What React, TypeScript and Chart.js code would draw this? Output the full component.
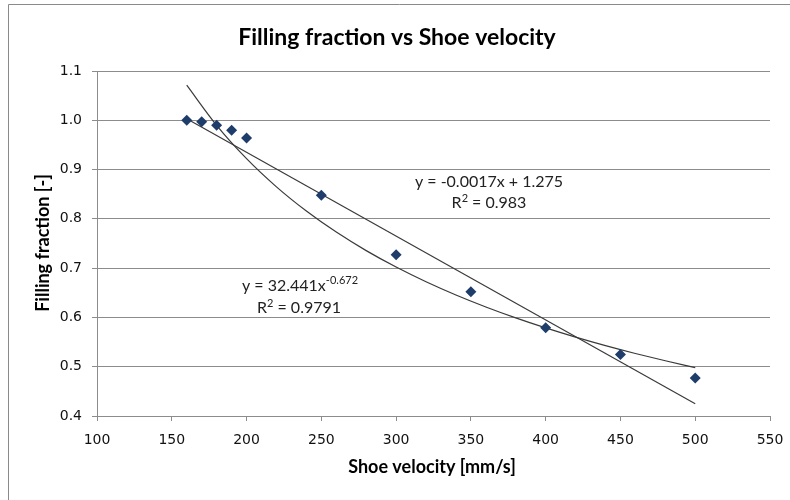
import React, { useEffect, useRef } from "react";
import { Chart, registerables } from "chart.js";

Chart.register(...registerables);

const velocities = [160, 170, 180, 190, 200, 250, 300, 350, 400, 450, 500];
const fillingFractions = [1.0, 0.997, 0.99, 0.98, 0.964, 0.848, 0.727, 0.652, 0.579, 0.525, 0.477];
const linearSlope = -0.0017;
const linearIntercept = 1.275;
const powerCoef = 32.441;
const powerExp = -0.672;
const trendX = [160, 180, 200, 220, 240, 260, 280, 300, 320, 340, 360, 380, 400, 420, 440, 460, 480, 500];

const linearTrend = [160, 500].map((x) => ({ x, y: linearSlope * x + linearIntercept }));
const powerTrend = trendX.map((x) => ({ x, y: powerCoef * Math.pow(x, powerExp) }));

const CAL = "Lato, 'Open Sans', sans-serif";

const decorPlugin = {
  id: "decor",
  beforeDraw(chart: any) {
    const ctx = chart.ctx;
    ctx.save();
    ctx.fillStyle = "#ffffff";
    ctx.fillRect(0, 0, chart.width, chart.height);
    ctx.strokeStyle = "#8a8a8a";
    ctx.lineWidth = 1;
    ctx.beginPath();
    ctx.moveTo(8.5, 500);
    ctx.lineTo(8.5, 4.5);
    ctx.lineTo(790, 4.5);
    ctx.stroke();
    ctx.restore();
  },
  afterDraw(chart: any) {
    const ctx = chart.ctx;
    ctx.save();
    ctx.fillStyle = "#000000";
    ctx.textBaseline = "middle";
    ctx.textAlign = "center";
    ctx.font = `bold 23px ${CAL}`;
    ctx.fillText("Filling fraction vs Shoe velocity", 397, 38);
    ctx.font = `bold 18px ${CAL}`;
    ctx.fillText("Shoe velocity [mm/s]", 432, 467);
    ctx.save();
    ctx.translate(43, 243);
    ctx.rotate(-Math.PI / 2);
    ctx.fillText("Filling fraction [-]", 0, 0);
    ctx.restore();

    ctx.fillStyle = "#222222";
    // linear equation
    ctx.font = `16px ${CAL}`;
    ctx.fillText("y = -0.0017x + 1.275", 489, 182);
    drawR2(ctx, "0.983", 489, 203);

    // power equation
    const base = "y = 32.441x";
    const sup = "-0.672";
    ctx.font = `16px ${CAL}`;
    const wb = ctx.measureText(base).width;
    ctx.font = `11px ${CAL}`;
    const ws = ctx.measureText(sup).width;
    const start = 300 - (wb + ws) / 2;
    ctx.textAlign = "left";
    ctx.font = `16px ${CAL}`;
    ctx.fillText(base, start, 286);
    ctx.font = `11px ${CAL}`;
    ctx.fillText(sup, start + wb, 280);
    ctx.textAlign = "center";
    drawR2(ctx, "0.9791", 299, 308);
    ctx.restore();

    function drawR2(c: any, val: string, cx: number, cy: number) {
      const a = "R";
      const s = "2";
      const b = " = " + val;
      c.font = `16px ${CAL}`;
      const wa = c.measureText(a).width;
      const wbb = c.measureText(b).width;
      c.font = `11px ${CAL}`;
      const wsu = c.measureText(s).width;
      const st = cx - (wa + wsu + wbb) / 2;
      c.textAlign = "left";
      c.font = `16px ${CAL}`;
      c.fillText(a, st, cy);
      c.fillText(b, st + wa + wsu, cy);
      c.font = `11px ${CAL}`;
      c.fillText(s, st + wa, cy - 5);
      c.textAlign = "center";
    }
  },
};

export default function App() {
  const ref = useRef<HTMLCanvasElement | null>(null);
  useEffect(() => {
    if (!ref.current) return;
    const chart = new Chart(ref.current, {
      type: "scatter",
      data: {
        datasets: [
          {
            label: "Filling fraction",
            data: velocities.map((x, i) => ({ x, y: fillingFractions[i] })),
            pointStyle: "rectRot",
            pointRadius: 5.5,
            backgroundColor: "#1f3d6b",
            borderColor: "#1f3d6b",
            borderWidth: 0,
            showLine: false,
            order: 1,
          },
          {
            label: "Linear",
            data: linearTrend,
            showLine: true,
            pointRadius: 0,
            borderColor: "#3a3a3a",
            borderWidth: 1.2,
            order: 2,
          },
          {
            label: "Power",
            data: powerTrend,
            showLine: true,
            pointRadius: 0,
            borderColor: "#3a3a3a",
            borderWidth: 1.2,
            cubicInterpolationMode: "monotone",
            order: 2,
          },
        ],
      },
      options: {
        responsive: false,
        animation: false,
        layout: { padding: { left: 0, right: 20, top: 71, bottom: 0 } },
        plugins: {
          legend: { display: false },
          title: { display: false },
          tooltip: { enabled: false },
        },
        scales: {
          x: {
            type: "linear",
            min: 100,
            max: 550,
            ticks: {
              stepSize: 50,
              padding: 11,
              color: "#111111",
              font: { family: "'DejaVu Sans', Verdana, sans-serif", size: 14 },
            },
            grid: {
              drawOnChartArea: false,
              drawTicks: true,
              tickLength: 5,
              color: "#8c8c8c",
            },
            border: { color: "#8c8c8c", width: 1 },
            afterFit: (s: any) => {
              s.height = 84;
              s.paddingRight = 0;
              s.paddingLeft = 0;
            },
          },
          y: {
            type: "linear",
            min: 0.4,
            max: 1.1,
            ticks: {
              stepSize: 0.1,
              padding: 10,
              color: "#111111",
              font: { family: "'DejaVu Sans', Verdana, sans-serif", size: 14 },
              callback: (v: any) => Number(v).toFixed(1),
            },
            grid: {
              drawTicks: true,
              tickLength: 5,
              color: "#8c8c8c",
            },
            border: { color: "#8c8c8c", width: 1 },
            afterFit: (s: any) => {
              s.width = 97;
              s.paddingTop = 0;
              s.paddingBottom = 0;
            },
          },
        },
      },
      plugins: [decorPlugin],
    });
    return () => chart.destroy();
  }, []);
  return (
    <div style={{ position: "absolute", left: 0, top: 0, width: 790, height: 500 }}>
      <canvas ref={ref} width={790} height={500} style={{ display: "block" }} />
    </div>
  );
}
